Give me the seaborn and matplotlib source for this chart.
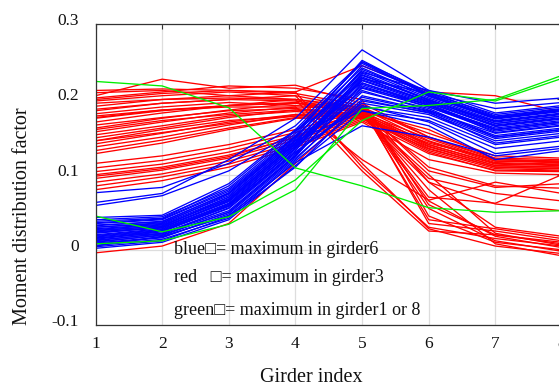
import numpy as np
import pandas as pd
import matplotlib
matplotlib.use("Agg")
import matplotlib.pyplot as plt
import seaborn as sns
from matplotlib.transforms import ScaledTranslation

girders = [1, 2, 3, 4, 5, 6, 7, 8]

blue_lines = [
    [0.010, 0.020, 0.050, 0.125, 0.215, 0.190, 0.160, 0.170],
    [0.015, 0.025, 0.058, 0.132, 0.225, 0.195, 0.165, 0.175],
    [0.020, 0.028, 0.062, 0.138, 0.232, 0.200, 0.170, 0.180],
    [0.005, 0.018, 0.045, 0.120, 0.205, 0.185, 0.155, 0.165],
    [0.025, 0.032, 0.068, 0.142, 0.240, 0.205, 0.175, 0.185],
    [0.030, 0.036, 0.072, 0.148, 0.245, 0.208, 0.180, 0.190],
    [0.012, 0.022, 0.055, 0.128, 0.210, 0.188, 0.150, 0.160],
    [0.018, 0.026, 0.060, 0.135, 0.220, 0.192, 0.162, 0.172],
    [0.022, 0.030, 0.066, 0.140, 0.228, 0.198, 0.168, 0.178],
    [0.008, 0.016, 0.048, 0.122, 0.200, 0.182, 0.148, 0.158],
    [0.035, 0.040, 0.078, 0.150, 0.238, 0.202, 0.172, 0.182],
    [0.040, 0.044, 0.082, 0.155, 0.250, 0.210, 0.178, 0.188],
    [0.028, 0.034, 0.070, 0.145, 0.218, 0.190, 0.158, 0.168],
    [0.014, 0.024, 0.058, 0.130, 0.195, 0.180, 0.145, 0.155],
    [0.032, 0.038, 0.075, 0.146, 0.230, 0.196, 0.164, 0.174],
    [0.006, 0.014, 0.042, 0.118, 0.190, 0.176, 0.140, 0.150],
    [0.038, 0.042, 0.085, 0.158, 0.242, 0.204, 0.174, 0.184],
    [0.024, 0.030, 0.064, 0.138, 0.212, 0.186, 0.152, 0.162],
    [0.016, 0.022, 0.052, 0.126, 0.235, 0.200, 0.168, 0.178],
    [0.043, 0.046, 0.088, 0.160, 0.248, 0.206, 0.176, 0.186],
    [0.011, 0.019, 0.050, 0.124, 0.222, 0.194, 0.160, 0.170],
    [0.027, 0.033, 0.067, 0.143, 0.203, 0.184, 0.150, 0.160],
    [0.019, 0.027, 0.061, 0.134, 0.226, 0.197, 0.166, 0.176],
    [0.033, 0.037, 0.076, 0.151, 0.233, 0.199, 0.171, 0.181],
    [0.002, 0.010, 0.040, 0.112, 0.185, 0.172, 0.135, 0.145],
    [0.063, 0.075, 0.120, 0.175, 0.266, 0.212, 0.182, 0.192],
    [0.076, 0.083, 0.115, 0.165, 0.250, 0.205, 0.175, 0.185],
    [0.059, 0.072, 0.105, 0.158, 0.222, 0.192, 0.160, 0.170],
    [0.026, 0.031, 0.070, 0.145, 0.185, 0.165, 0.120, 0.132],
    [0.013, 0.021, 0.056, 0.130, 0.192, 0.170, 0.128, 0.138],
    [0.030, 0.035, 0.074, 0.150, 0.236, 0.212, 0.195, 0.202],
    [0.017, 0.025, 0.059, 0.136, 0.228, 0.208, 0.188, 0.196],
    [0.009, 0.017, 0.046, 0.116, 0.165, 0.150, 0.125, 0.135],
    [0.036, 0.041, 0.080, 0.152, 0.252, 0.207, 0.177, 0.187],
    [0.004, 0.012, 0.044, 0.110, 0.198, 0.183, 0.142, 0.152],
    [0.023, 0.029, 0.065, 0.141, 0.216, 0.193, 0.156, 0.166],
]

red_lines = [
    [0.209, 0.212, 0.205, 0.200, 0.190, 0.150, 0.122, 0.120],
    [0.198, 0.205, 0.210, 0.205, 0.188, 0.145, 0.118, 0.116],
    [0.187, 0.195, 0.200, 0.198, 0.185, 0.140, 0.115, 0.113],
    [0.175, 0.185, 0.192, 0.195, 0.182, 0.138, 0.112, 0.110],
    [0.166, 0.176, 0.185, 0.188, 0.180, 0.135, 0.110, 0.108],
    [0.153, 0.165, 0.178, 0.184, 0.178, 0.132, 0.108, 0.106],
    [0.141, 0.155, 0.170, 0.180, 0.176, 0.130, 0.105, 0.104],
    [0.128, 0.142, 0.160, 0.175, 0.175, 0.142, 0.120, 0.118],
    [0.181, 0.190, 0.196, 0.192, 0.186, 0.155, 0.125, 0.122],
    [0.145, 0.160, 0.172, 0.178, 0.184, 0.160, 0.121, 0.115],
    [0.109, 0.119, 0.135, 0.156, 0.182, 0.148, 0.118, 0.117],
    [0.104, 0.114, 0.130, 0.152, 0.180, 0.144, 0.116, 0.114],
    [0.100, 0.110, 0.126, 0.149, 0.178, 0.140, 0.114, 0.112],
    [0.095, 0.106, 0.122, 0.146, 0.176, 0.137, 0.112, 0.110],
    [0.090, 0.101, 0.118, 0.142, 0.174, 0.134, 0.110, 0.108],
    [0.085, 0.097, 0.114, 0.139, 0.172, 0.128, 0.106, 0.105],
    [0.080, 0.092, 0.110, 0.136, 0.170, 0.120, 0.102, 0.100],
    [0.098, 0.108, 0.124, 0.150, 0.186, 0.110, 0.085, 0.082],
    [0.205, 0.227, 0.215, 0.219, 0.195, 0.060, 0.020, 0.008],
    [0.202, 0.210, 0.218, 0.215, 0.200, 0.045, 0.010, 0.000],
    [0.191, 0.200, 0.205, 0.210, 0.110, 0.030, 0.015, 0.005],
    [0.185, 0.195, 0.200, 0.205, 0.115, 0.028, 0.005, -0.005],
    [0.170, 0.182, 0.192, 0.200, 0.105, 0.025, 0.020, 0.010],
    [0.162, 0.175, 0.186, 0.195, 0.190, 0.035, 0.025, 0.012],
    [0.157, 0.170, 0.182, 0.190, 0.188, 0.040, 0.028, 0.015],
    [0.149, 0.162, 0.176, 0.186, 0.186, 0.055, 0.012, -0.002],
    [0.137, 0.150, 0.166, 0.180, 0.184, 0.065, 0.018, 0.003],
    [0.212, 0.214, 0.212, 0.208, 0.192, 0.090, 0.030, 0.018],
    [0.176, 0.186, 0.192, 0.196, 0.182, 0.080, 0.008, -0.008],
    [0.132, 0.146, 0.162, 0.176, 0.180, 0.100, 0.022, 0.006],
    [0.195, 0.200, 0.202, 0.200, 0.188, 0.105, 0.083, 0.088],
    [0.160, 0.172, 0.180, 0.186, 0.180, 0.095, 0.075, 0.065],
    [0.145, 0.156, 0.168, 0.178, 0.178, 0.090, 0.061, 0.052],
    [0.115, 0.125, 0.140, 0.160, 0.185, 0.070, 0.062, 0.100],
    [0.178, 0.186, 0.190, 0.190, 0.120, 0.066, 0.090, 0.075],
    [-0.004, 0.005, 0.035, 0.115, 0.195, 0.150, 0.120, 0.118],
    [0.200, 0.208, 0.212, 0.210, 0.245, 0.210, 0.205, 0.183],
]

green_lines = [
    [0.224, 0.218, 0.189, 0.109, 0.085, 0.056, 0.050, 0.052],
    [0.045, 0.024, 0.044, 0.093, 0.172, 0.210, 0.198, 0.228],
    [0.008, 0.012, 0.034, 0.080, 0.188, 0.192, 0.200, 0.232],
]

annotations = [
    "blue\u25a1= maximum in girder6",
    "red   \u25a1= maximum in girder3",
    "green\u25a1= maximum in girder1 or 8",
]
annotation_y = [-0.005, -0.043, -0.087]

x_label = "Girder index"
y_label = "Moment distribution factor"

rows = []
for group, lines in (("red", red_lines), ("blue", blue_lines), ("green", green_lines)):
    for i, vals in enumerate(lines):
        for g, v in zip(girders, vals):
            rows.append({"girder": g, "value": v, "group": group, "line": f"{group}{i}"})
df = pd.DataFrame(rows)

sns.set_theme(style="white")
plt.rcParams["font.family"] = ["Liberation Serif", "DejaVu Sans"]

W, H = 559, 387
fig = plt.figure(figsize=(W / 100, H / 100), dpi=100)
ax_left, ax_right, ax_top, ax_bottom = 95.5, 562.0, 24.3, 325.0
ax = fig.add_axes([ax_left / W, 1 - ax_bottom / H, (ax_right - ax_left) / W, (ax_bottom - ax_top) / H])

sns.lineplot(data=df, x="girder", y="value", hue="group", units="line",
             estimator=None, sort=False, hue_order=["red", "blue", "green"],
             palette={"red": "#ff0000", "blue": "#0000ff", "green": "#00ee00"},
             linewidth=0.95, legend=False, ax=ax)

ax.set_xlim(1, 8)
ax.set_ylim(-0.1, 0.3)
ax.set_xticks(girders)
ax.set_yticks([-0.1, 0, 0.1, 0.2, 0.3])
ax.set_yticklabels(["-0.1", "0", "0.1", "0.2", "0.3"])
ax.grid(True, color="#dddddd", linewidth=0.9)
ax.set_axisbelow(True)
for s in ax.spines.values():
    s.set_color("#333333")
    s.set_linewidth(0.9)
ax.tick_params(direction="in", length=3.5, width=0.8, color="#333333",
               top=True, right=True, labelsize=12.5, labelcolor="#111111")
ax.tick_params(axis="x", pad=8)
ax.tick_params(axis="y", pad=12)
for lab in ax.get_yticklabels():
    lab.set_transform(lab.get_transform() + ScaledTranslation(0, 5 / 100, fig.dpi_scale_trans))

ax.set_xlabel(x_label, fontsize=14.5, color="#111111")
ax.set_ylabel(y_label, fontsize=14.5, color="#111111")
ax.xaxis.set_label_coords((311 - ax_left) / (ax_right - ax_left), (ax_bottom - 378) / (ax_bottom - ax_top))
ax.xaxis.label.set_va("center")
ax.yaxis.set_label_coords((23 - ax_left) / (ax_right - ax_left), (ax_bottom - 216) / (ax_bottom - ax_top))
ax.yaxis.label.set_va("center")

for txt, yv in zip(annotations, annotation_y):
    ax.text(2.18, yv, txt, fontsize=13, va="baseline", ha="left", color="#111111",
            family=["Liberation Serif", "DejaVu Sans"])

fig.savefig("out.png", dpi=100)
